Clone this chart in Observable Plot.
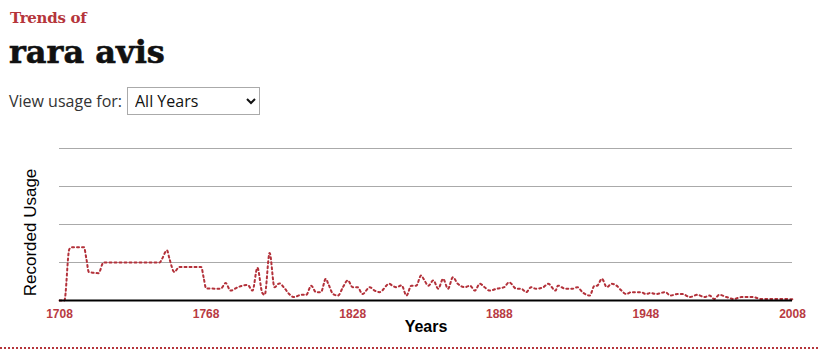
<!DOCTYPE html>
<html>
<head>
<meta charset="utf-8">
<script src="https://cdn.jsdelivr.net/npm/d3@7"></script>
<script src="https://cdn.jsdelivr.net/npm/@observablehq/plot@0.6"></script>
<style>
  html, body { margin: 0; padding: 0; background: #fff; }
  body { width: 819px; height: 357px; position: relative; overflow: hidden; font-family: "Open Sans", sans-serif; }
  #kicker { position: absolute; left: 10px; top: 9px; font-family: "DejaVu Serif", serif; font-weight: bold; font-size: 15px; color: #b5353b; letter-spacing: -0.3px; }
  #title { position: absolute; left: 9px; top: 33px; font-family: "DejaVu Serif", serif; font-weight: bold; font-size: 32px; color: #111; letter-spacing: 0px; -webkit-text-stroke: 0.6px #111; }
  #view { position: absolute; left: 9px; top: 90px; font-size: 16px; color: #333; }
  #sel { position: absolute; left: 127px; top: 87px; width: 133px; height: 28px; font-family: "Open Sans", sans-serif; font-size: 16px; border: 1px solid #aaa; background: #fff; color: #111; padding-left: 3px; }
  #chart { position: absolute; left: 0; top: 130px; }
  #rule { position: absolute; left: 0; top: 347px; width: 819px; height: 2px; background: repeating-linear-gradient(90deg, #b5353b 0 2px, transparent 2px 4px); }
</style>
</head>
<body>
<div id="kicker">Trends of</div>
<div id="title">rara avis</div>
<div id="view">View usage for:</div>
<select id="sel"><option>All Years</option></select>
<div id="chart"></div>
<div id="rule"></div>
<script>
const years = [1708,1710,1712,1713,1718,1719,1720,1724,1726,1749,1750,1752,1753,1755,1757,1766,1767,1768,1774,1776,1778,1781,1785,1787,1789,1791,1792,1794,1796,1798,1800,1802,1804,1807,1809,1811,1813,1815,1817,1818,1820,1822,1824,1826,1828,1830,1832,1835,1837,1839,1843,1844,1846,1848,1850,1852,1854,1856,1857,1859,1861,1863,1865,1867,1869,1871,1874,1876,1878,1880,1882,1884,1887,1890,1892,1895,1897,1899,1901,1903,1906,1908,1911,1912,1915,1918,1920,1922,1925,1927,1928,1930,1932,1934,1936,1938,1940,1942,1944,1946,1948,1950,1952,1956,1958,1961,1963,1966,1969,1972,1974,1976,1978,1981,1984,1987,1992,1995,2000,2005,2008];
const usage = [0,0,1.35,1.4,1.4,1.1,0.75,0.72,1.0,1.0,1.1,1.32,1.1,0.75,0.88,0.88,0.6,0.32,0.31,0.46,0.26,0.35,0.41,0.26,0.86,0.2,0.15,1.25,0.35,0.45,0.33,0.17,0.09,0.15,0.15,0.39,0.22,0.22,0.57,0.44,0.17,0.13,0.35,0.53,0.35,0.35,0.17,0.35,0.26,0.22,0.44,0.40,0.35,0.40,0.13,0.39,0.39,0.66,0.57,0.39,0.53,0.31,0.57,0.31,0.61,0.44,0.35,0.39,0.26,0.44,0.35,0.26,0.31,0.35,0.48,0.31,0.31,0.22,0.35,0.31,0.35,0.44,0.26,0.39,0.31,0.31,0.35,0.22,0.13,0.39,0.39,0.57,0.35,0.44,0.39,0.26,0.17,0.22,0.22,0.22,0.17,0.20,0.17,0.22,0.13,0.17,0.17,0.09,0.15,0.09,0.13,0.04,0.15,0.09,0.04,0.09,0.09,0.04,0.04,0.04,0.03];
const xTicks = [1708,1768,1828,1888,1948,2008];
const gridLevels = [1,2,3,4];
const xLabel = "Years";
const yLabel = "Recorded Usage";

const data = years.map((y, i) => ({year: y, value: usage[i]}));

const chart = Plot.plot({
  width: 819,
  height: 215,
  marginLeft: 59,
  marginRight: 27,
  marginTop: 18,
  marginBottom: 45,
  style: {fontFamily: "Arial, 'Liberation Sans', sans-serif", background: "transparent"},
  x: {domain: [1708, 2008], axis: null},
  y: {domain: [0, 4], axis: null},
  marks: [
    Plot.ruleY(gridLevels, {stroke: "#aaa", strokeWidth: 1}),
    Plot.line(data, {x: "year", y: "value", curve: "monotone-x", stroke: "#b3313a", strokeWidth: 2, strokeDasharray: "2,3"}),
    Plot.ruleY([0], {stroke: "#000", strokeWidth: 2}),
    Plot.axisX(xTicks, {tickSize: 0, tickPadding: 9, tickFormat: d => String(d), fontWeight: "bold", fontSize: 12, fill: "#b83a42", label: null}),
    Plot.text([xLabel], {frameAnchor: "bottom", dy: 31, fontWeight: "bold", fontSize: 16, fill: "#000"}),
    Plot.text([yLabel], {frameAnchor: "left", textAnchor: "middle", rotate: -90, dx: -29, dy: 8, fontSize: 17, fill: "#000"})
  ]
});
document.getElementById("chart").appendChild(chart);
</script>
</body>
</html>
